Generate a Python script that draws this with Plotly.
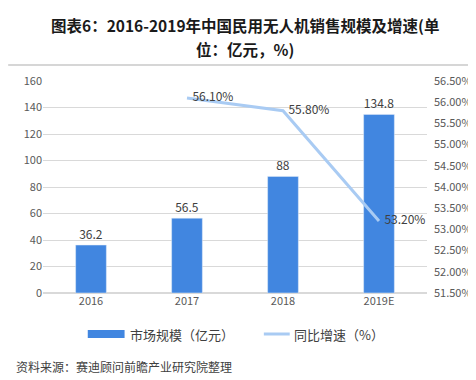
import plotly.graph_objects as go

categories = ["2016", "2017", "2018", "2019E"]
market_size = [36.2, 56.5, 88, 134.8]
growth_cats = ["2017", "2018", "2019E"]
growth_rate = [56.10, 55.80, 53.20]
left_ticks = [0, 20, 40, 60, 80, 100, 120, 140, 160]
right_ticks = [51.5, 52.0, 52.5, 53.0, 53.5, 54.0, 54.5, 55.0, 55.5, 56.0, 56.5]
legend_labels = ["市场规模（亿元）", "同比增速（%）"]
title_lines = ["图表6：2016-2019年中国民用无人机销售规模及增速(单", "位：亿元，%)"]

font_cn = "Noto Sans CJK SC"
tick_color = "#595959"
bar_color = "#4186e0"
line_color = "#a9cbf3"

W, H = 476, 380
L, R, T, B = 35, 55, 73, 95
PW, PH = W - L - R, H - T - B


def px(x):
    return (x - L) / PW


def py(y):
    # y in pixels from the top of the figure
    return (H - B - y) / PH


fig = go.Figure()
fig.add_trace(go.Bar(
    x=categories, y=market_size, name=legend_labels[0],
    marker_color=bar_color, width=0.32,
    text=[f"{v:g}" for v in market_size], textposition="outside",
    textfont=dict(size=12, color="#404040"), cliponaxis=False,
))
fig.add_trace(go.Scatter(
    x=growth_cats, y=growth_rate, name=legend_labels[1], yaxis="y2",
    mode="lines+text", line=dict(color=line_color, width=3),
    text=[f"  {v:.2f}%" for v in growth_rate], textposition="middle right",
    textfont=dict(size=12, color="#404040"), cliponaxis=False,
))

fig.update_layout(
    width=W, height=H,
    margin=dict(l=L, r=R, t=T, b=B),
    paper_bgcolor="white", plot_bgcolor="white",
    font=dict(family=font_cn, size=11, color=tick_color),
    showlegend=False,
    xaxis=dict(showgrid=False, showline=False, ticks="", tickfont=dict(size=11, color=tick_color)),
    yaxis=dict(range=[0, 160], tickvals=left_ticks, showgrid=True, gridcolor="#d9d9d9",
               zeroline=True, zerolinecolor="#d9d9d9", ticks="",
               tickfont=dict(size=11, color=tick_color)),
    yaxis2=dict(range=[51.5, 56.5], tickvals=right_ticks,
                ticktext=[f"{v:.2f}%" for v in right_ticks],
                overlaying="y", side="right", ticklabelstandoff=6,
                showgrid=False, zeroline=False,
                tickfont=dict(size=11, color=tick_color)),
)

# title (two lines, boxes abutting at y=29px)
for txt, anchor in zip(title_lines, ["bottom", "top"]):
    fig.add_annotation(
        text=f"<b>{txt}</b>",
        xref="paper", yref="paper", x=px(W / 2), y=py(29), yanchor=anchor,
        showarrow=False, align="center", borderpad=0,
        font=dict(family=font_cn, size=15.5, color="#1a1a1a"),
    )
# separator line
fig.add_shape(type="line", xref="paper", yref="paper",
              x0=px(0), x1=px(W), y0=py(57), y1=py(57),
              line=dict(color="#c8c8c8", width=1.5))

# custom legend
ly = py(326)
fig.add_shape(type="rect", xref="paper", yref="paper",
              x0=px(80), x1=px(117), y0=py(322), y1=py(330),
              fillcolor=bar_color, line=dict(width=0))
fig.add_annotation(text=legend_labels[0], xref="paper", yref="paper",
                   x=px(120), y=ly, xanchor="left", yanchor="middle", showarrow=False,
                   font=dict(family=font_cn, size=13, color="#404040"))
fig.add_shape(type="line", xref="paper", yref="paper",
              x0=px(257), x1=px(283), y0=ly, y1=ly,
              line=dict(color=line_color, width=3))
fig.add_annotation(text=legend_labels[1], xref="paper", yref="paper",
                   x=px(285), y=ly, xanchor="left", yanchor="middle", showarrow=False,
                   font=dict(family=font_cn, size=13, color="#404040"))

# source
fig.add_annotation(
    text="资料来源：赛迪顾问前瞻产业研究院整理",
    xref="paper", yref="paper", x=px(6), xanchor="left",
    y=py(358), yanchor="middle", showarrow=False,
    font=dict(family=font_cn, size=12, color="#404040"),
)

fig.write_html("out.html")
